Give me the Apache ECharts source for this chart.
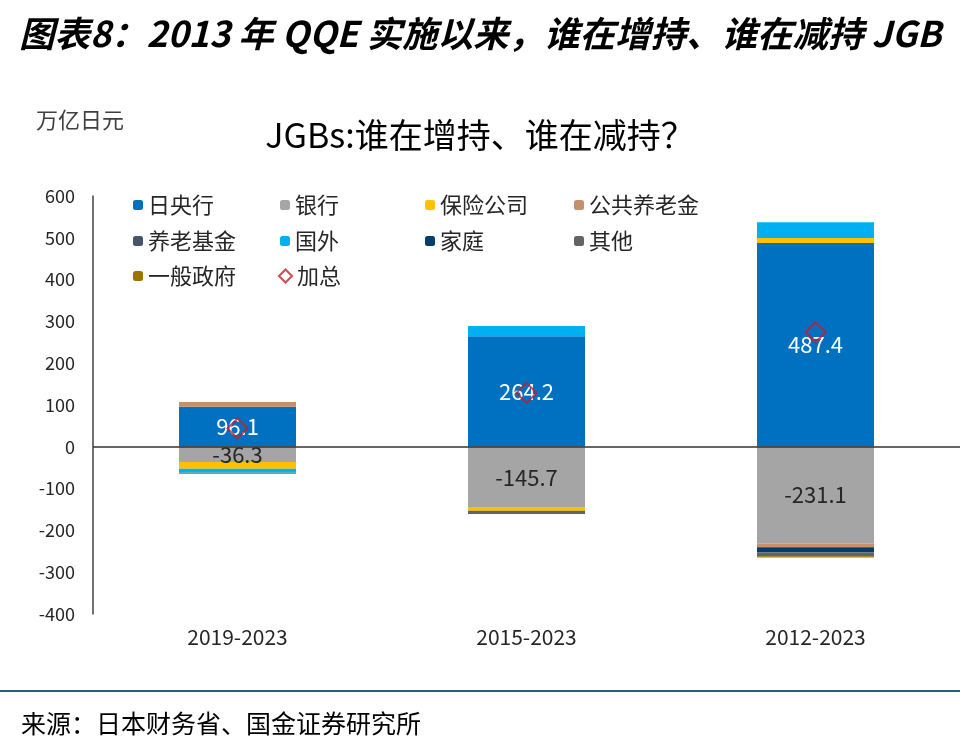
<!DOCTYPE html>
<html>
<head>
<meta charset="utf-8">
<script src="https://cdn.jsdelivr.net/npm/echarts@6/dist/echarts.min.js"></script>
<style>
html,body{margin:0;padding:0;background:#fff;}
#c{width:960px;height:748px;}
</style>
</head>
<body>
<div id="c"></div>
<script>
const categories = ['2019-2023', '2015-2023', '2012-2023'];
const seriesNames = ['日央行', '银行', '保险公司', '公共养老金', '养老基金', '国外', '家庭', '其他', '一般政府'];
const boj = [96.1, 264.2, 487.4];
const banks = [-36.3, -145.7, -231.1];
const insurance = [-16, -7, 12];
const publicPension = [11, 0, -9];
const pensionFunds = [0, 0, 0];
const foreign = [-9.5, 25, 38];
const households = [0, 0, -12];
const others = [0, -8, -10];
const generalGov = [-2.5, 0, -3];
const total = [44, 129, 274];
const yTicks = [-400, -300, -200, -100, 0, 100, 200, 300, 400, 500, 600];

const colors = ['#0070C0', '#A5A5A5', '#FFC000', '#C4906F', '#44546A', '#00B0F0', '#003E6E', '#636363', '#9C7400'];
const values = [boj, banks, insurance, publicPension, pensionFunds, foreign, households, others, generalGov];

const FONT = '"Noto Sans CJK SC", "Noto Sans", sans-serif';

const series = seriesNames.map((name, i) => {
  const s = {
    name: name,
    type: 'bar',
    stack: 'total',
    barWidth: 117,
    data: values[i],
    itemStyle: { color: colors[i] },
    label: { show: false }
  };
  if (i === 0) {
    s.label = { show: true, position: 'inside', color: '#fff', fontSize: 22, fontFamily: FONT, formatter: p => String(p.value) };
    s.markLine = {
      symbol: 'none', silent: true, animation: false,
      label: { show: false },
      lineStyle: { color: '#333', width: 1.5, type: 'solid' },
      data: [{ yAxis: 0 }]
    };
  }
  if (i === 1) {
    s.label = { show: true, position: 'inside', color: '#262626', fontSize: 22, fontFamily: FONT, formatter: p => String(p.value) };
  }
  return s;
});
series.push({
  name: '加总',
  type: 'scatter',
  symbol: 'diamond',
  symbolSize: 20,
  data: total,
  z: 10,
  itemStyle: { color: 'rgba(0,0,0,0)', borderColor: '#C0202A', borderWidth: 2 }
});

const legendItems = [
  ['日央行', 133, 207], ['银行', 280, 207], ['保险公司', 425, 207], ['公共养老金', 574, 207],
  ['养老基金', 133, 243], ['国外', 280, 243], ['家庭', 425, 243], ['其他', 574, 243],
  ['一般政府', 133, 278], ['加总', 278, 278]
];
const legends = legendItems.map(([n, x, y]) => ({
  data: [n === '加总' ? { name: n, icon: 'diamond' } : n],
  left: x, top: y - 13, padding: 0,
  itemWidth: n === '加总' ? 13 : 10, itemHeight: n === '加总' ? 13 : 10, itemGap: 6,
  selectedMode: false,
  textStyle: { fontSize: 22, color: '#262626', fontFamily: FONT, padding: [0, 0, 0, 0] }
}));

const chart = echarts.init(document.getElementById('c'), null, { renderer: 'canvas' });
chart.setOption({
  animation: false,
  backgroundColor: '#fff',
  title: [
    { text: '图表8：2013 年 QQE 实施以来，谁在增持、谁在减持 JGB', left: 14, top: 11,
      textStyle: { fontSize: 35.5, fontWeight: 'bold', fontStyle: 'italic', color: '#000', fontFamily: FONT } },
    { text: 'JGBs:谁在增持、谁在减持？', left: 'center', top: 113,
      textStyle: { fontSize: 34, fontWeight: 'normal', color: '#000', fontFamily: FONT } },
    { text: '万亿日元', left: 31, top: 104,
      textStyle: { fontSize: 22, fontWeight: 'normal', color: '#404040', fontFamily: FONT } },
    { text: '来源：日本财务省、国金证券研究所', left: 16, top: 706,
      textStyle: { fontSize: 25, fontWeight: 'normal', color: '#000', fontFamily: FONT } }
  ],
  legend: legends,
  graphic: [
    { type: 'line', shape: { x1: 0, y1: 691, x2: 960, y2: 691 }, style: { stroke: '#2E5A7E', lineWidth: 2 } }
  ],
  grid: { left: 93, right: 0, top: 196, bottom: 134, containLabel: false },
  xAxis: {
    type: 'category',
    data: categories,
    axisLine: { show: false, onZero: false },
    axisTick: { show: false },
    axisLabel: { fontSize: 21, color: '#262626', fontFamily: FONT, margin: 13 }
  },
  yAxis: {
    type: 'value',
    min: yTicks[0], max: yTicks[yTicks.length - 1], interval: 100,
    axisLine: { show: true, lineStyle: { color: '#404040', width: 1.5 } },
    axisTick: { show: false },
    splitLine: { show: false },
    axisLabel: { fontSize: 18, color: '#262626', fontFamily: FONT, margin: 18 }
  },
  series: series
});
</script>
</body>
</html>
